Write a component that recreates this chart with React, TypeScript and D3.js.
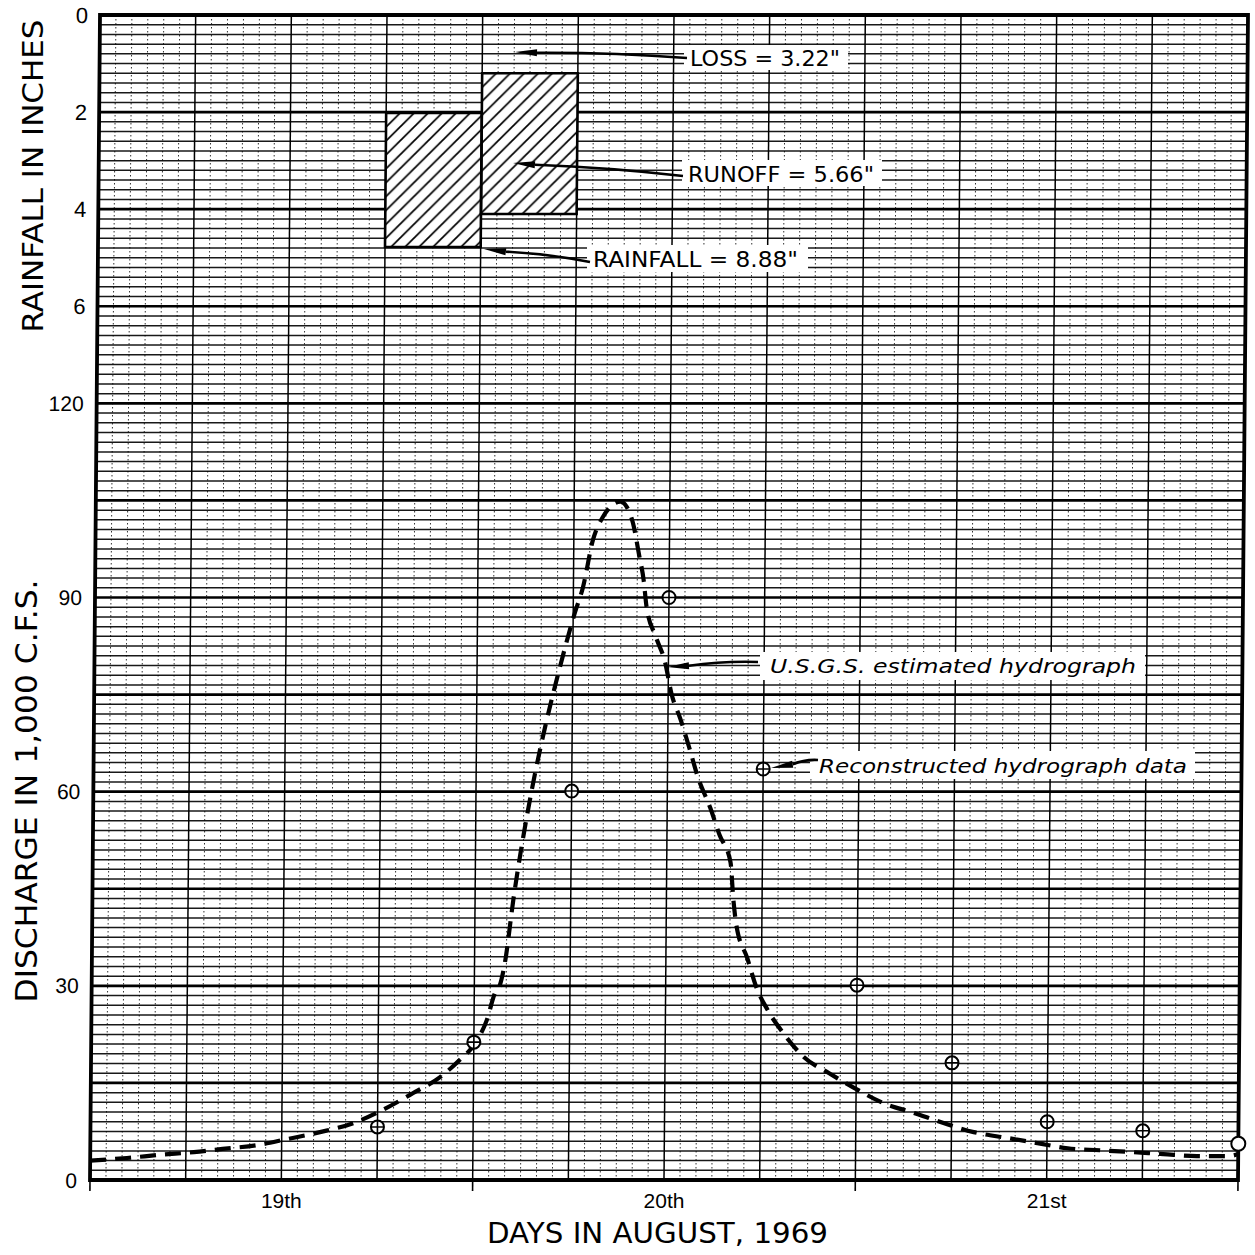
import React from 'react';
import * as d3 from 'd3';

// ---- data ----
const dayLabels = ['19th', '20th', '21st'];
const dayLabelHours = [12, 36, 60];
const dayBoundaryHours = [0, 24, 48, 72];
const rainTicks = [0, 2, 4, 6];
const dischargeTicks = [0, 30, 60, 90, 120];

const rainStartHours = [18, 24];
const rainEndHours = [24, 30];
const rainTotal = [4.78, 4.10];
const rainLoss = [2.02, 1.20];

const usgsHours = [0, 2.3, 4.4, 6.5, 8.3, 10.5, 12.3, 14.4, 16.5, 18.3, 20.2, 21.9, 23.1, 24.1, 24.8, 25.3, 25.6, 25.9, 26.4, 27.5, 28.4, 29.1, 30.1, 30.6, 31.2, 31.8, 32.9, 33.3, 33.7, 34.1, 34.4, 34.6, 35.2, 35.8, 36.2, 36.8, 37.4, 37.9, 38.7, 39.3, 40.0, 40.2, 40.4, 41.1, 41.7, 42.4, 43.4, 44.7, 46.3, 47.9, 49.7, 51.6, 53.5, 55.4, 57.5, 59.4, 61.3, 63.3, 65.4, 67.3, 69.4, 71.4, 72];
const usgsQ = [3.0, 3.4, 3.9, 4.3, 4.8, 5.4, 6.3, 7.4, 8.8, 10.8, 13.4, 15.9, 18.5, 21.2, 24.7, 28.9, 30.1, 33.5, 43.3, 60.3, 71.1, 78.3, 87.6, 91.6, 98.9, 102.4, 104.8, 104.0, 101.5, 96.6, 92.7, 88.5, 83.9, 79.9, 75.2, 71.1, 66.4, 62.3, 57.5, 53.3, 49.1, 43.3, 39.4, 34.3, 29.7, 26.3, 22.7, 19.0, 16.5, 14.2, 11.9, 10.4, 8.8, 7.4, 6.5, 5.7, 4.9, 4.6, 4.3, 4.0, 3.7, 3.7, 4.0];

const obsHours = [18, 24, 30, 36, 42, 48, 54, 60, 66];
const obsQ = [8.2, 21.3, 60.1, 90.0, 63.5, 30.1, 18.1, 9.0, 7.6];
const openHours = [72];
const openQ = [5.6];

const annotations = [
  { text: 'LOSS = 3.22"', x: 690, y: 66, len: 150, size: 22, italic: false, box: [684, 45, 164, 25], tail: [687, 58], head: [515, 52] },
  { text: 'RUNOFF = 5.66"', x: 688, y: 182, len: 186, size: 22, italic: false, box: [682, 160, 200, 26], tail: [683, 176], head: [513, 163] },
  { text: 'RAINFALL = 8.88"', x: 593, y: 267, len: 205, size: 22, italic: false, box: [587, 245, 221, 27], tail: [590, 262], head: [484, 249] },
  { text: 'U.S.G.S. estimated hydrograph', x: 770, y: 673, len: 366, size: 20, italic: true, box: [760, 652, 385, 28], tail: [758, 662], head: [667, 667] },
  { text: 'Reconstructed hydrograph data', x: 819, y: 773, len: 368, size: 20, italic: true, box: [810, 751, 385, 28], tail: [818, 760], head: [771, 768] },
];

// ---- layout ----
const W = 1255;
const H = 1255;
const left = 90, right = 1238, top = 15, bottom = 1180;
const skewK = 10 / 1165;

export default function App() {
  const x = d3.scaleLinear().domain([0, 72]).range([left, right]);
  const yQ = d3.scaleLinear().domain([0, 180]).range([bottom, top]);
  const yR = d3.scaleLinear().domain([0, 24]).range([top, bottom]);

  const hLines = d3.range(0, 121).map((i) => i * 0.2);
  const vMajor = d3.range(0, 73, 6);
  const vMinor = d3.range(0, 73, 1).filter((h) => h % 6 !== 0);

  const line = d3
    .line<number>()
    .x((d, i) => x(usgsHours[i]))
    .y((d) => yQ(d))
    .curve(d3.curveMonotoneX);

  const skew = `translate(${skewK * bottom},0) skewX(${(-Math.atan(skewK) * 180) / Math.PI})`;
  const font = "'DejaVu Sans', 'Liberation Sans', sans-serif";
  const numFont = "'Liberation Sans', Arial, sans-serif";

  const arrow = (tail: number[], head: number[], key: string) => {
    const [x1, y1] = tail;
    const [x2, y2] = head;
    const dx = x2 - x1, dy = y2 - y1;
    const len = Math.hypot(dx, dy);
    const ux = dx / len, uy = dy / len;
    const px = -uy, py = ux;
    const hl = 22, hw = 3.5;
    const bx = x2 - ux * hl, by = y2 - uy * hl;
    const mx = (x1 + bx) / 2 + px * 3, my = (y1 + by) / 2 + py * 3;
    return (
      <g key={key}>
        <path d={`M${x1},${y1} Q${mx},${my} ${bx},${by}`} fill="none" stroke="#000" strokeWidth={2.6} />
        <polygon points={`${x2},${y2} ${bx + px * hw},${by + py * hw} ${bx - px * hw},${by - py * hw}`} fill="#000" />
      </g>
    );
  };

  return (
    <svg width={W} height={H} style={{ position: 'absolute', left: 0, top: 0, background: '#fff' }}>
      <defs>
        <pattern id="hatch" patternUnits="userSpaceOnUse" width={14} height={14}>
          <path d="M-3.5,3.5 L3.5,-3.5 M0,14 L14,0 M10.5,17.5 L17.5,10.5" stroke="#000" strokeWidth={1.8} />
        </pattern>
      </defs>
      <rect x={0} y={0} width={W} height={H} fill="#fff" />
      <g transform={skew}>
        {/* vertical minor grid */}
        {vMinor.map((h) => (
          <line key={'vm' + h} x1={x(h)} x2={x(h)} y1={top} y2={bottom} stroke="#000" strokeWidth={1} strokeDasharray="1.5 2.5" opacity={0.8} />
        ))}
        {/* horizontal grid */}
        {hLines.map((r, i) => (
          <line key={'h' + i} x1={left} x2={right} y1={yR(r)} y2={yR(r)} stroke="#000" strokeWidth={i % 10 === 0 ? 2.6 : 1.5} opacity={i % 10 === 0 ? 1 : 0.9} />
        ))}
        {/* vertical major grid */}
        {vMajor.map((h) => (
          <line key={'vM' + h} x1={x(h)} x2={x(h)} y1={top} y2={bottom} stroke="#000" strokeWidth={1.5} />
        ))}
        {/* rainfall bars */}
        {rainTotal.map((t, i) => (
          <rect key={'rb' + i} x={x(rainStartHours[i])} y={yR(rainLoss[i])} width={x(rainEndHours[i]) - x(rainStartHours[i])} height={yR(t) - yR(rainLoss[i])} fill="#fff" />
        ))}
        {rainTotal.map((t, i) => (
          <rect key={'r' + i} x={x(rainStartHours[i])} y={yR(rainLoss[i])} width={x(rainEndHours[i]) - x(rainStartHours[i])} height={yR(t) - yR(rainLoss[i])} fill="url(#hatch)" stroke="#000" strokeWidth={2.6} />
        ))}
        {/* border */}
        <rect x={left} y={top} width={right - left} height={bottom - top} fill="none" stroke="#000" strokeWidth={3.8} />
        {/* day boundary ticks */}
        {dayBoundaryHours.map((h) => (
          <line key={'t' + h} x1={x(h)} x2={x(h)} y1={bottom} y2={bottom + 11} stroke="#000" strokeWidth={1.6} />
        ))}
        {/* USGS hydrograph */}
        <path d={line(usgsQ) || ''} fill="none" stroke="#000" strokeWidth={4.2} strokeDasharray="16 9" />
        {/* observed points */}
        {obsQ.map((q, i) => {
          const cx = x(obsHours[i]);
          const cy = yQ(q);
          return (
            <g key={'o' + i}>
              <circle cx={cx} cy={cy} r={6.5} fill="#fff" stroke="#000" strokeWidth={2} />
              <line x1={cx - 6.5} x2={cx + 6.5} y1={cy} y2={cy} stroke="#000" strokeWidth={1.6} />
              <line x1={cx} x2={cx} y1={cy - 6.5} y2={cy + 6.5} stroke="#000" strokeWidth={1.6} />
            </g>
          );
        })}
        {openQ.map((q, i) => (
          <circle key={'op' + i} cx={x(openHours[i])} cy={yQ(q)} r={7} fill="#fff" stroke="#000" strokeWidth={2} />
        ))}
        {/* tick labels */}
        {rainTicks.map((r) => (
          <text key={'rt' + r} x={left - 12} y={yR(r)} dy="0.36em" textAnchor="end" fontFamily={numFont} fontSize={22}>{r}</text>
        ))}
        {dischargeTicks.map((q) => (
          <text key={'qt' + q} x={left - 13} y={yQ(q)} dy="0.36em" textAnchor="end" fontFamily={numFont} fontSize={21}>{q}</text>
        ))}
      </g>
      {/* annotations */}
      {annotations.map((a, i) => (
        <g key={'a' + i}>
          <rect x={a.box[0]} y={a.box[1]} width={a.box[2]} height={a.box[3]} fill="#fff" />
          <text x={a.x} y={a.y} fontFamily={font} fontSize={a.size} fontStyle={a.italic ? 'italic' : 'normal'} textLength={a.len} lengthAdjust="spacingAndGlyphs">{a.text}</text>
          {arrow(a.tail, a.head, 'ar' + i)}
        </g>
      ))}
      {/* x labels */}
      {dayLabels.map((d, i) => (
        <text key={'d' + i} x={x(dayLabelHours[i])} y={1208} textAnchor="middle" fontFamily={numFont} fontSize={21}>{d}</text>
      ))}
      <text x={487} y={1243} fontFamily={font} fontSize={28} textLength={341} lengthAdjust="spacingAndGlyphs">DAYS IN AUGUST, 1969</text>
      <text transform="translate(43,176) rotate(-90)" textAnchor="middle" fontFamily={font} fontSize={29} textLength={313} lengthAdjust="spacingAndGlyphs">RAINFALL IN INCHES</text>
      <text transform="translate(37,791) rotate(-90)" textAnchor="middle" fontFamily={font} fontSize={31} textLength={423} lengthAdjust="spacingAndGlyphs">DISCHARGE IN 1,000 C.F.S.</text>
    </svg>
  );
}
